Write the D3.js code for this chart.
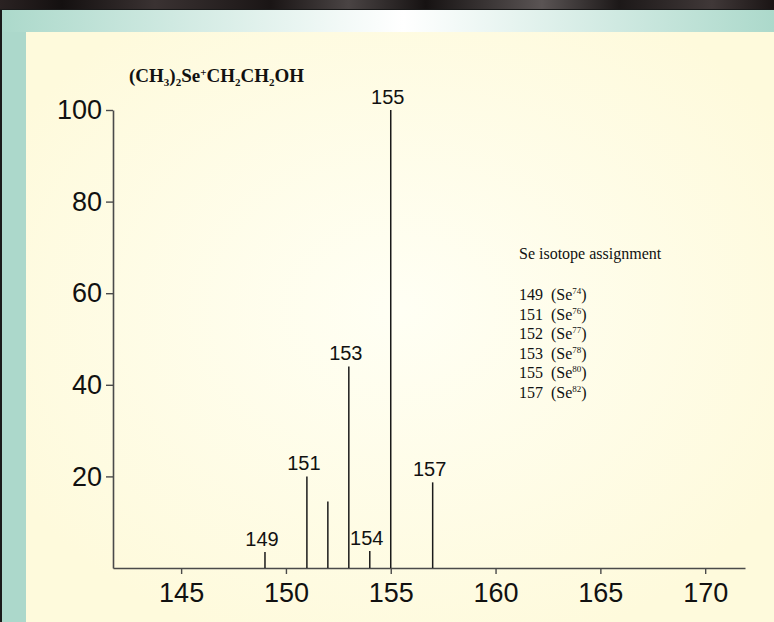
<!DOCTYPE html>
<html><head><meta charset="utf-8">
<script src="https://cdn.jsdelivr.net/npm/d3@7"></script>
<style>html,body{margin:0;padding:0;background:#000;}svg{display:block;}</style>
</head><body>
<script>
const masses = [149, 151, 152, 153, 154, 155, 157];
const intensities = [3.5, 20, 14.5, 44, 3.7, 100, 18.7];
const peakLabels = ["149", "151", "", "153", "154", "155", "157"];
const xTicks = [145, 150, 155, 160, 165, 170];
const yTicks = [20, 40, 60, 80, 100];
const isoMass = ["149", "151", "152", "153", "155", "157"];
const isoSe = ["74", "76", "77", "78", "80", "82"];
const legendTitle = "Se isotope assignment";

const W = 774, H = 622;
const svg = d3.select("body").append("svg").attr("width", W).attr("height", H);
const defs = svg.append("defs");

// backgrounds
const topG = defs.append("linearGradient").attr("id", "topband").attr("x1", 0).attr("x2", 1).attr("y1", 0).attr("y2", 0);
topG.append("stop").attr("offset", "0%").attr("stop-color", "#acd9cb");
topG.append("stop").attr("offset", "52%").attr("stop-color", "#ffffff");
topG.append("stop").attr("offset", "100%").attr("stop-color", "#acd9cb");
const strip = defs.append("linearGradient").attr("id", "strip").attr("x1", 0).attr("x2", 1);
[["0%","#2a2222"],["8%","#141010"],["20%","#3a3232"],["35%","#1a1515"],["45%","#4a4444"],["55%","#161212"],["70%","#5a5454"],["80%","#1c1818"],["92%","#403838"],["100%","#1a1414"]]
  .forEach(s => strip.append("stop").attr("offset", s[0]).attr("stop-color", s[1]));
const rad = defs.append("radialGradient").attr("id", "panel").attr("cx", "0.5").attr("cy", "0.47").attr("r", "0.6");
rad.append("stop").attr("offset", "0%").attr("stop-color", "#fffff4");
rad.append("stop").attr("offset", "100%").attr("stop-color", "#fefadc");

svg.append("rect").attr("x", 0).attr("y", 0).attr("width", W).attr("height", 10).attr("fill", "url(#strip)");
svg.append("rect").attr("x", 0).attr("y", 9).attr("width", W).attr("height", H - 9).attr("fill", "#1a1a1a");
svg.append("rect").attr("x", 2).attr("y", 10).attr("width", W - 2).attr("height", H - 10).attr("fill", "#acd8cb");
svg.append("rect").attr("x", 2).attr("y", 10).attr("width", W - 2).attr("height", 22).attr("fill", "url(#topband)");
svg.append("rect").attr("x", 26).attr("y", 32).attr("width", W - 26).attr("height", H - 32).attr("fill", "url(#panel)");

// scales
const x = d3.scaleLinear().domain([141.75, 171.9]).range([113, 745]);
const y = d3.scaleLinear().domain([0, 100]).range([568, 110]);

const axisColor = "#4a4a4a";
const fontSans = "'Liberation Sans', Arial, sans-serif";
const fontSerif = "'Liberation Serif', 'Times New Roman', serif";

// x axis
const xAxis = svg.append("g").attr("transform", `translate(0,${y(0)})`)
  .call(d3.axisBottom(x).tickValues(xTicks).tickSize(6).tickPadding(9).tickSizeOuter(0).tickFormat(d3.format("d")));
xAxis.select(".domain").attr("stroke", axisColor).attr("stroke-width", 1.6);
xAxis.selectAll(".tick line").attr("stroke", axisColor).attr("stroke-width", 1.4);
xAxis.selectAll("text").attr("font-family", fontSans).attr("font-size", 27).attr("fill", "#111");

// y axis
const yAxis = svg.append("g").attr("transform", `translate(${x.range()[0]},0)`)
  .call(d3.axisLeft(y).tickValues(yTicks).tickSize(7).tickPadding(4).tickSizeOuter(0).tickFormat(d3.format("d")));
yAxis.select(".domain").attr("stroke", axisColor).attr("stroke-width", 1.6);
yAxis.selectAll(".tick line").attr("stroke", axisColor).attr("stroke-width", 1.4);
yAxis.selectAll("text").attr("font-family", fontSans).attr("font-size", 27).attr("fill", "#111");

// stems
const peaks = masses.map((m, i) => ({m, v: intensities[i], label: peakLabels[i]}));
svg.append("g").selectAll("line").data(peaks).join("line")
  .attr("x1", d => x(d.m)).attr("x2", d => x(d.m))
  .attr("y1", y(0)).attr("y2", d => y(d.v))
  .attr("stroke", "#1a1a1a").attr("stroke-width", 1.5);

svg.append("g").selectAll("text").data(peaks.filter(d => d.label)).join("text")
  .attr("x", d => x(d.m) - 3).attr("y", d => y(d.v) - 6)
  .attr("text-anchor", "middle")
  .attr("font-family", fontSans).attr("font-size", 20).attr("fill", "#111")
  .text(d => d.label);

// title formula
const t = svg.append("text").attr("x", 129).attr("y", 82)
  .attr("font-family", fontSerif).attr("font-weight", "bold").attr("font-size", 19).attr("fill", "#111");
const parts = [["(CH", 0], ["3", 1], [")", 0], ["2", 1], ["Se", 0], ["+", 2], ["CH", 0], ["2", 1], ["CH", 0], ["2", 1], ["OH", 0]];
let shift = 0;
parts.forEach(([s, k]) => {
  const target = k === 1 ? 4 : (k === 2 ? -6 : 0);
  t.append("tspan").attr("dy", target - shift).attr("font-size", k ? 11 : 19).text(s);
  shift = target;
});

// legend
svg.append("text").attr("x", 519).attr("y", 259)
  .attr("font-family", fontSerif).attr("font-size", 16).attr("fill", "#111").text(legendTitle);
const leg = svg.append("g");
isoMass.forEach((m, i) => {
  const tx = leg.append("text").attr("x", 519).attr("y", 300 + i * 19.6)
    .attr("font-family", fontSerif).attr("font-size", 16).attr("fill", "#111")
    .attr("xml:space", "preserve").style("white-space", "pre");
  tx.append("tspan").text(m + "  (Se");
  tx.append("tspan").attr("dy", -6).attr("font-size", 9).text(isoSe[i]);
  tx.append("tspan").attr("dy", 6).text(")");
});
</script>
</body></html>
